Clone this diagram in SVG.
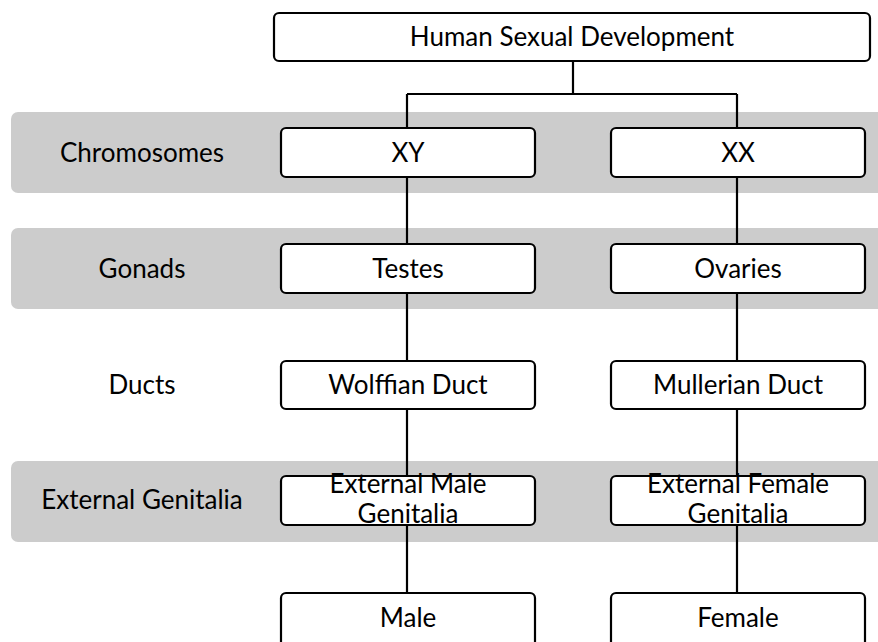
<svg xmlns="http://www.w3.org/2000/svg" width="878" height="642" viewBox="0 0 878 642">
  <style>
    .band { fill: #cccccc; }
    .box { fill: #ffffff; stroke: #000000; stroke-width: 2.2; }
    .wire { fill: none; stroke: #000000; stroke-width: 2.2; }
    text { font-family: Lato, "Liberation Sans", sans-serif; font-size: 26px; fill: #000000; text-anchor: middle; }
  </style>

  <!-- stage bands -->
  <g id="bands">
    <rect class="band" x="11" y="112" width="880" height="81" rx="7"/>
    <rect class="band" x="11" y="228" width="880" height="81" rx="7"/>
    <rect class="band" x="11" y="461" width="880" height="81" rx="7"/>
  </g>

  <!-- stage labels -->
  <g id="labels">
    <text x="142" y="162">Chromosomes</text>
    <text x="142" y="278">Gonads</text>
    <text x="142" y="394">Ducts</text>
    <text x="142" y="509">External Genitalia</text>
  </g>

  <!-- connectors -->
  <g id="connectors">
    <path class="wire" d="M573 61 V94 M407 94 H737 M407 94 V593 M737 94 V593"/>
  </g>

  <g id="root">
    <rect class="box" x="274" y="13" width="596" height="48" rx="5"/>
    <text x="572" y="46">Human Sexual Development</text>
  </g>

  <g id="xy">
    <rect class="box" x="281" y="128" width="254" height="49" rx="5"/>
    <text x="408" y="162">XY</text>
  </g>
  <g id="xx">
    <rect class="box" x="611" y="128" width="254" height="49" rx="5"/>
    <text x="738" y="162">XX</text>
  </g>

  <g id="testes">
    <rect class="box" x="281" y="244" width="254" height="49" rx="5"/>
    <text x="408" y="278">Testes</text>
  </g>
  <g id="ovaries">
    <rect class="box" x="611" y="244" width="254" height="49" rx="5"/>
    <text x="738" y="278">Ovaries</text>
  </g>

  <g id="wolffian">
    <rect class="box" x="281" y="361" width="254" height="48" rx="5"/>
    <text x="408" y="394">Wolffian Duct</text>
  </g>
  <g id="mullerian">
    <rect class="box" x="611" y="361" width="254" height="48" rx="5"/>
    <text x="738" y="394">Mullerian Duct</text>
  </g>

  <g id="ext-male">
    <rect class="box" x="281" y="476" width="254" height="49" rx="5"/>
    <text x="408" y="493">External Male</text>
    <text x="408" y="523">Genitalia</text>
  </g>
  <g id="ext-female">
    <rect class="box" x="611" y="476" width="254" height="49" rx="5"/>
    <text x="738" y="493">External Female</text>
    <text x="738" y="523">Genitalia</text>
  </g>

  <g id="male">
    <rect class="box" x="281" y="593" width="254" height="55" rx="5"/>
    <text x="408" y="627">Male</text>
  </g>
  <g id="female">
    <rect class="box" x="611" y="593" width="254" height="55" rx="5"/>
    <text x="738" y="627">Female</text>
  </g>
</svg>
